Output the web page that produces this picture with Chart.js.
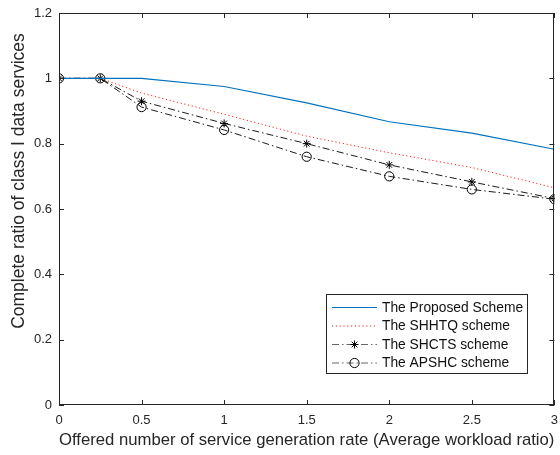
<!DOCTYPE html>
<html>
<head>
<meta charset="utf-8">
<script src="https://cdn.jsdelivr.net/npm/chart.js@4"></script>
<style>
  html, body { margin: 0; padding: 0; background: #ffffff; }
  #wrap { width: 560px; height: 455px; position: relative; }
</style>
</head>
<body>
<div id="wrap"><canvas id="c" width="560" height="455"></canvas></div>
<script>
// Offered load (average workload ratio) on the x axis
const loadRatio = [0, 0.25, 0.5, 1, 1.5, 2, 2.5, 3];

// Completion ratio of class I data services for each scheme
const proposedScheme = [1, 1, 1.00, 0.975, 0.925, 0.867, 0.832, 0.783];
const shhtqScheme    = [1, 1, 0.955, 0.89, 0.823, 0.772, 0.727, 0.665];
const shctsScheme    = [1, 1, 0.930, 0.862, 0.800, 0.735, 0.683, 0.632];
const apshcScheme    = [1, 1, 0.912, 0.842, 0.760, 0.700, 0.660, 0.630];

const seriesNames = ['The Proposed Scheme', 'The SHHTQ scheme', 'The SHCTS scheme', 'The APSHC scheme'];

const xTicks = [0, 0.5, 1, 1.5, 2, 2.5, 3];
const yTicks = [0, 0.2, 0.4, 0.6, 0.8, 1, 1.2];

const xTitle = 'Offered number of service generation rate (Average workload ratio)';
const yTitle = 'Complete ratio of class I data services';

const AXIS = '#262626';
const FONT = '"Liberation Sans", Arial, sans-serif';

function pts(ys) { return loadRatio.map((x, i) => ({ x: x, y: ys[i] })); }

const styles = [
  { color: '#0072BD', dash: [], width: 1.2, point: false },
  { color: '#ff2020', dash: [1.2, 2.6], width: 1, point: false },
  { color: '#000000', dash: [7, 3, 1.5, 3], width: 0.9, point: 'star', radius: 4 },
  { color: '#000000', dash: [7, 3, 1.5, 3], width: 0.9, point: 'circle', radius: 4.6 }
];

const datasets = [proposedScheme, shhtqScheme, shctsScheme, apshcScheme].map((ys, i) => ({
  label: seriesNames[i],
  data: pts(ys),
  borderColor: styles[i].color,
  borderWidth: styles[i].width,
  borderDash: styles[i].dash,
  pointStyle: styles[i].point || 'circle',
  pointRadius: styles[i].point ? styles[i].radius : 0,
  pointBorderColor: '#000000',
  pointBackgroundColor: 'rgba(0,0,0,0)',
  pointBorderWidth: 1,
  fill: false,
  tension: 0
}));

// Box frame, inward ticks, rotated y title and the boxed legend
const frame = {
  id: 'frame',
  afterDraw(chart) {
    const { ctx, chartArea: a, scales: { x, y } } = chart;
    ctx.save();
    ctx.strokeStyle = AXIS;
    ctx.lineWidth = 1;
    ctx.setLineDash([]);
    ctx.strokeRect(Math.round(a.left) + 0.5, Math.round(a.top) + 0.5,
                   Math.round(a.right - a.left) - 1, Math.round(a.bottom - a.top) - 1);
    const tl = 5;
    ctx.beginPath();
    xTicks.forEach(v => {
      const px = Math.round(x.getPixelForValue(v)) + 0.5;
      ctx.moveTo(px, a.bottom); ctx.lineTo(px, a.bottom - tl);
      ctx.moveTo(px, a.top); ctx.lineTo(px, a.top + tl);
    });
    yTicks.forEach(v => {
      const py = Math.round(y.getPixelForValue(v)) + 0.5;
      ctx.moveTo(a.left, py); ctx.lineTo(a.left + tl, py);
      ctx.moveTo(a.right, py); ctx.lineTo(a.right - tl, py);
    });
    ctx.stroke();

    // y axis title
    ctx.fillStyle = AXIS;
    ctx.font = '17.5px ' + FONT;
    ctx.textAlign = 'center';
    ctx.textBaseline = 'middle';
    ctx.translate(19.5, 181);
    ctx.rotate(-Math.PI / 2);
    ctx.fillText(yTitle, 0, 0);
    ctx.restore();

    // legend
    ctx.save();
    const lx = 326.5, ly = 294.5, lw = 201, lh = 79;
    ctx.fillStyle = '#ffffff';
    ctx.fillRect(lx, ly, lw, lh);
    ctx.strokeStyle = AXIS;
    ctx.lineWidth = 1;
    ctx.strokeRect(lx, ly, lw, lh);
    const rows = [307, 325.5, 344, 362.5];
    ctx.font = '13.8px ' + FONT;
    ctx.textBaseline = 'middle';
    ctx.textAlign = 'left';
    seriesNames.forEach((name, i) => {
      const s = styles[i];
      const yy = rows[i] + 0.5;
      ctx.strokeStyle = s.point ? '#555555' : s.color;
      ctx.lineWidth = s.width;
      ctx.setLineDash(s.dash);
      ctx.beginPath();
      ctx.moveTo(332, yy); ctx.lineTo(377, yy);
      ctx.stroke();
      ctx.setLineDash([]);
      ctx.strokeStyle = '#000000';
      ctx.fillStyle = 'rgba(0,0,0,0)';
      ctx.lineWidth = 1;
      if (s.point === 'star') {
        Chart.helpers.drawPoint(ctx, { pointStyle: 'star', radius: s.radius, borderWidth: 1, rotation: 0 }, 354.5, yy);
      } else if (s.point === 'circle') {
        ctx.beginPath();
        ctx.arc(354.5, yy, s.radius, 0, Math.PI * 2);
        ctx.stroke();
      }
      ctx.fillStyle = '#111111';
      ctx.fillText(name, 382, rows[i] + 1);
    });
    ctx.restore();
  }
};

new Chart(document.getElementById('c'), {
  type: 'line',
  data: { datasets: datasets },
  plugins: [frame],
  options: {
    responsive: false,
    animation: false,
    devicePixelRatio: 1,
    layout: { padding: { top: 13, right: 2, left: 0, bottom: 0 } },
    plugins: { legend: { display: false }, tooltip: { enabled: false } },
    scales: {
      x: {
        type: 'linear',
        min: 0, max: 3,
        afterBuildTicks: s => { s.ticks = xTicks.map(v => ({ value: v })); },
        afterFit: s => { s.height = 50; s.paddingLeft = 0; s.paddingRight = 0; },
        grid: { display: false, drawTicks: false },
        border: { display: false },
        ticks: { color: AXIS, font: { family: FONT, size: 13 }, padding: 8, maxRotation: 0,
                 callback: v => String(v) },
        title: { display: true, text: xTitle, color: AXIS,
                 font: { family: FONT, size: 17 }, padding: { top: 0, bottom: 4 } }
      },
      y: {
        type: 'linear',
        min: 0, max: 1.2,
        afterBuildTicks: s => { s.ticks = yTicks.map(v => ({ value: v })); },
        afterFit: s => { s.width = 59; s.paddingTop = 0; s.paddingBottom = 0; },
        grid: { display: false, drawTicks: false },
        border: { display: false },
        ticks: { color: AXIS, font: { family: FONT, size: 13 }, padding: 7,
                 callback: v => String(Math.round(v * 10) / 10) }
      }
    }
  }
});
</script>
</body>
</html>
